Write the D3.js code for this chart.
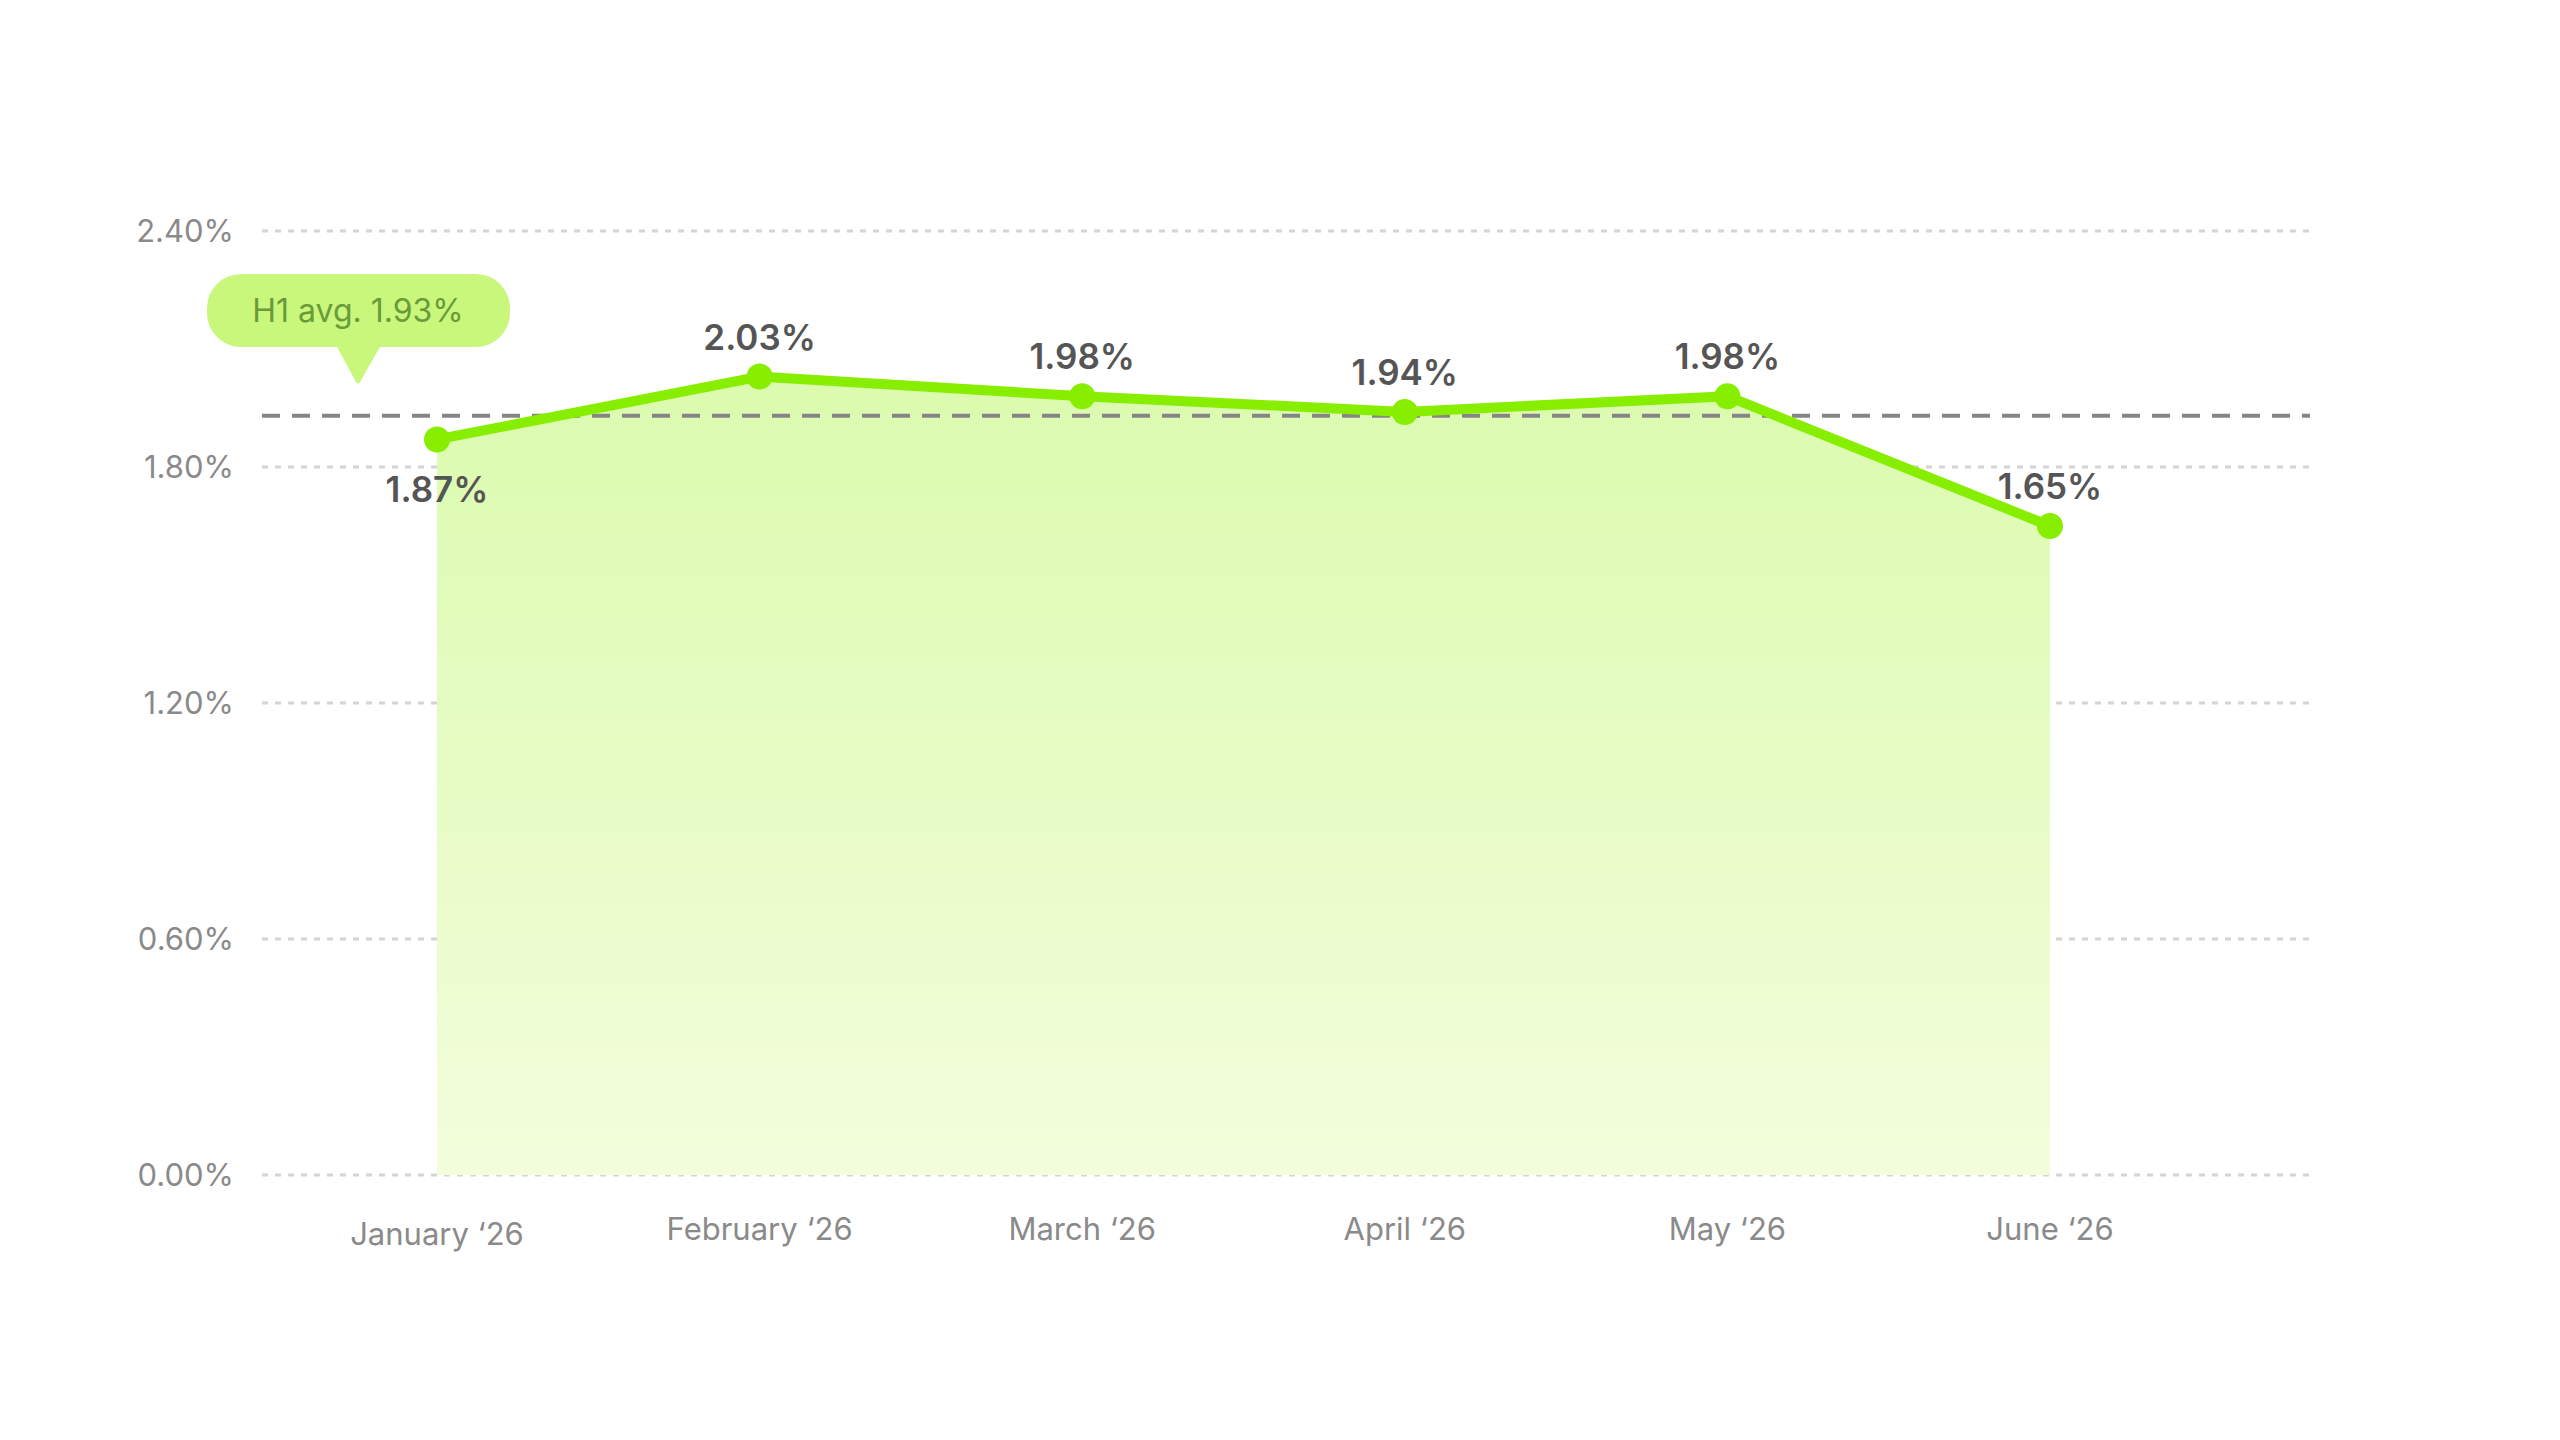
<!DOCTYPE html>
<html lang="en">
<body style="margin:0;background:#fff">
<script src="https://d3js.org/d3.v7.min.js"></script>
<script>
const months = ["January \u201826", "February \u201826", "March \u201826", "April \u201826", "May \u201826", "June \u201826"];
const values = [1.87, 2.03, 1.98, 1.94, 1.98, 1.65];
const yTicks = [0, 0.6, 1.2, 1.8, 2.4];
const avgValue = 1.93;
const avgLabel = "H1 avg. 1.93%";

const width = 2560, height = 1440;
const svg = d3.select("body").append("svg")
  .attr("width", width).attr("height", height)
  .style("font-family", "Inter, 'Noto Sans', sans-serif");

const x = d3.scalePoint().domain(months).range([437, 2050]);
const y = d3.scaleLinear().domain([0, 2.4]).range([1175, 231]);

const defs = svg.append("defs");
const grad = defs.append("linearGradient").attr("id", "fillGrad")
  .attr("x1", 0).attr("y1", 0).attr("x2", 0).attr("y2", 1);
grad.append("stop").attr("offset", "0%").attr("stop-color", "#dbfbae");
grad.append("stop").attr("offset", "100%").attr("stop-color", "#f3fddc");

// gridlines + y labels
const yAxis = svg.append("g");
yTicks.forEach(t => {
  yAxis.append("line")
    .attr("x1", 262).attr("x2", 2310)
    .attr("y1", y(t)).attr("y2", y(t))
    .attr("stroke", "#d4d4d4").attr("stroke-width", 3)
    .attr("stroke-dasharray", "6 7");
  yAxis.append("text")
    .attr("x", 234).attr("y", y(t) + 11)
    .attr("text-anchor", "end")
    .attr("font-size", 31).attr("fill", "#8a8a8a")
    .text(t.toFixed(2) + "%");
});

const pts = months.map((m, i) => ({ m, v: values[i] }));

svg.append("path").datum(pts)
  .attr("fill", "url(#fillGrad)")
  .attr("d", d3.area().x(d => x(d.m)).y0(y(0)).y1(d => y(d.v)));

// average line
svg.append("line")
  .attr("x1", 262).attr("x2", 2310)
  .attr("y1", y(avgValue)).attr("y2", y(avgValue))
  .attr("stroke", "#858585").attr("stroke-width", 4)
  .attr("stroke-dasharray", "18 12");

svg.append("path").datum(pts)
  .attr("fill", "none").attr("stroke", "#88ee00").attr("stroke-width", 10)
  .attr("stroke-linejoin", "round")
  .attr("d", d3.line().x(d => x(d.m)).y(d => y(d.v)));

svg.selectAll("circle.pt").data(pts).join("circle")
  .attr("cx", d => x(d.m)).attr("cy", d => y(d.v)).attr("r", 13)
  .attr("fill", "#88ee00");

svg.selectAll("text.val").data(pts).join("text")
  .attr("x", d => x(d.m))
  .attr("y", (d, i) => i === 0 ? y(d.v) + 63 : y(d.v) - 27)
  .attr("text-anchor", "middle")
  .attr("font-size", 35).attr("font-weight", 600).attr("fill", "#555")
  .text(d => d.v.toFixed(2) + "%");

// x labels
svg.selectAll("text.xl").data(months).join("text")
  .attr("x", d => x(d)).attr("y", (d, i) => i === 0 ? 1245 : 1240)
  .attr("text-anchor", "middle")
  .attr("font-size", 31).attr("fill", "#8a8a8a")
  .text(d => d);

// tooltip bubble
const tip = svg.append("g");
tip.append("rect").attr("x", 207).attr("y", 274).attr("width", 303).attr("height", 73)
  .attr("rx", 34).attr("fill", "#c9f77c");
tip.append("path").attr("d", "M336,345 L381,345 L360,382 Q358,385 356,382 Z").attr("fill", "#c9f77c");
tip.append("text").attr("x", 358).attr("y", 322).attr("text-anchor", "middle")
  .attr("font-size", 32).attr("fill", "#6a9a3a").text(avgLabel);
</script>
</body>
</html>
